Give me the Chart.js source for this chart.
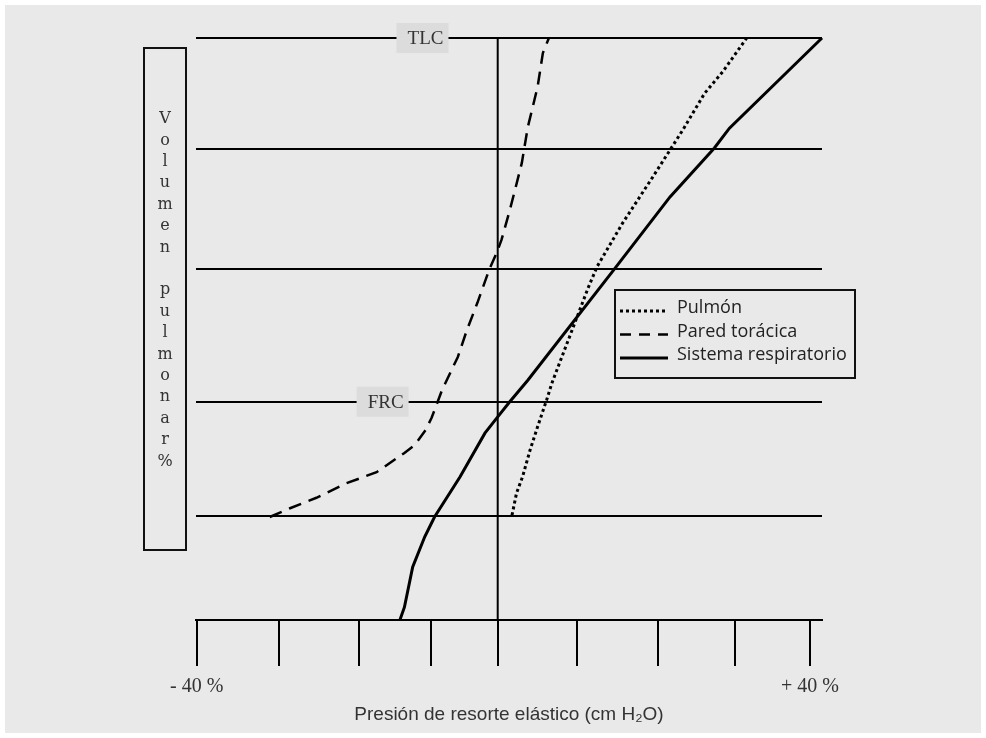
<!DOCTYPE html>
<html>
<head>
<meta charset="utf-8">
<script src="https://cdn.jsdelivr.net/npm/chart.js@4/dist/chart.umd.min.js"></script>
<style>
  html, body { margin: 0; padding: 0; background: #ffffff; }
  #c { display: block; }
</style>
</head>
<body>
<canvas id="c" width="986" height="738"></canvas>
<script>
// ---------- data ----------
const seriesNames = ['Pulmón', 'Pared torácica', 'Sistema respiratorio'];

const pulmonPressure = [1.9, 2.5, 3.3, 4.3, 5.3, 6.5, 7.2, 12.0, 13.2, 16.6, 20.6, 24.6, 27.5, 29.9, 33.1];
const pulmonVolume   = [18.0, 21.8, 24.6, 29.2, 33.2, 37.8, 40.7, 57.0, 60.7, 68.2, 76.1, 84.2, 90.5, 94.2, 100];

const paredPressure = [-30.3, -27.6, -24.1, -20.1, -16.1, -12.4, -11.0, -9.6, -8.8, -7.4, -5.3, -4.1, -2.7, -1.1, -0.1, 0.5, 1.6, 2.3, 3.2, 4.0, 5.3, 6.0, 6.8];
const paredVolume   = [17.7, 19.2, 21.0, 23.5, 25.4, 28.7, 30.1, 32.6, 34.7, 39.5, 45.2, 49.8, 54.5, 60.3, 63.2, 65.3, 70.4, 73.9, 78.5, 84.7, 91.6, 97.4, 100];

const sistemaPressure = [-13.0, -12.4, -11.3, -9.7, -8.4, -5.0, -1.7, 0, 1.6, 4.0, 15.5, 22.9, 28.8, 30.8, 43.1];
const sistemaVolume   = [0, 2.2, 9.1, 14.3, 17.7, 24.6, 32.1, 34.9, 37.5, 41.2, 60.3, 72.7, 81.1, 84.5, 100];

// vertical zero-pressure axis
const zeroAxisPressure = [0, 0];
const zeroAxisVolume = [0, 100];

// axes
const pressureMin = -40.1;
const pressureMax = 43.1;
const pressureTicks = [-40, -29.1, -18.5, -8.9, 0, 10.6, 21.3, 31.6, 41.5];
const pressureTickLabels = ['- 40 %', '', '', '', '', '', '', '', '+ 40 %'];
const volumeGrid = [0, 17.9, 37.5, 60.3, 80.9, 100];

const xTitle = 'Presión de resorte elástico (cm H₂O)';
const yTitle = 'Volumen pulmonar %';

// reference-volume markers
const markerNames = ['TLC', 'FRC'];
const markerPressure = [-10.0, -15.3];
const markerVolume = [100, 37.5];

// ---------- helpers ----------
const zip = (xs, ys) => xs.map((x, i) => ({ x: x, y: ys[i] }));
const BG = '#e9e9e9';

const styles = [
  { borderDash: [3, 3], borderWidth: 3 },
  { borderDash: [13, 8], borderWidth: 2.5 },
  { borderDash: [], borderWidth: 3 }
];

const bgPlugin = {
  id: 'bg',
  beforeDraw(chart) {
    const ctx = chart.ctx;
    ctx.save();
    ctx.fillStyle = '#ffffff';
    ctx.fillRect(0, 0, chart.width, chart.height);
    ctx.fillStyle = BG;
    ctx.fillRect(5, 5, chart.width - 10, chart.height - 10);
    ctx.restore();
  }
};

const yLabelPlugin = {
  id: 'ylabel',
  afterDraw(chart) {
    const ctx = chart.ctx;
    ctx.save();
    ctx.strokeStyle = '#111';
    ctx.lineWidth = 2;
    ctx.strokeRect(144, 48, 42, 502);
    ctx.fillStyle = '#333';
    ctx.font = '16px "DejaVu Serif"';
    ctx.textAlign = 'center';
    ctx.textBaseline = 'middle';
    const chars = Array.from(yTitle);
    let step = 0;
    chars.forEach((ch, i) => {
      if (ch === ' ') {
        // a blank line only between words, not before the lone "%"
        if (chars[i + 1] !== '%') step++;
        return;
      }
      ctx.fillText(ch, 165, 119 + step * 21.4);
      step++;
    });
    ctx.restore();
  }
};

const markerPlugin = {
  id: 'markers',
  afterDatasetsDraw(chart) {
    const ctx = chart.ctx;
    const xs = chart.scales.x, ys = chart.scales.y;
    ctx.save();
    markerNames.forEach((name, i) => {
      const cx = xs.getPixelForValue(markerPressure[i]);
      const cy = ys.getPixelForValue(markerVolume[i]);
      ctx.fillStyle = '#dcdcdc';
      ctx.fillRect(cx - 26, cy - 15, 52, 30);
      ctx.fillStyle = '#333';
      ctx.font = '19px "Liberation Serif"';
      ctx.textAlign = 'center';
      ctx.textBaseline = 'middle';
      ctx.fillText(name, cx + 3, cy + 1);
    });
    ctx.restore();
  }
};

const legendPlugin = {
  id: 'customLegend',
  afterDraw(chart) {
    const ctx = chart.ctx;
    ctx.save();
    ctx.fillStyle = BG;
    ctx.fillRect(615, 290, 240, 88);
    ctx.strokeStyle = '#111';
    ctx.lineWidth = 2;
    ctx.strokeRect(615, 290, 240, 88);
    seriesNames.forEach((name, i) => {
      const ty = 308 + i * 23.5;
      ctx.strokeStyle = '#000';
      ctx.lineWidth = styles[i].borderWidth;
      ctx.setLineDash(i === 1 ? [11, 8] : styles[i].borderDash);
      ctx.beginPath();
      ctx.moveTo(620, ty + 3);
      ctx.lineTo(668, ty + 3);
      ctx.stroke();
      ctx.setLineDash([]);
      ctx.fillStyle = '#222';
      ctx.font = '18px "Open Sans"';
      ctx.textAlign = 'left';
      ctx.textBaseline = 'middle';
      ctx.fillText(name, 677, ty);
    });
    ctx.restore();
  }
};

const datasets = [
  { label: seriesNames[0], data: zip(pulmonPressure, pulmonVolume) },
  { label: seriesNames[1], data: zip(paredPressure, paredVolume) },
  { label: seriesNames[2], data: zip(sistemaPressure, sistemaVolume) }
].map((d, i) => Object.assign(d, {
  borderColor: '#000',
  borderWidth: styles[i].borderWidth,
  borderDash: styles[i].borderDash,
  pointRadius: 0,
  tension: 0,
  fill: false,
  clip: false
}));
datasets.push({
  label: 'eje',
  data: zip(zeroAxisPressure, zeroAxisVolume),
  borderColor: '#000',
  borderWidth: 2,
  pointRadius: 0,
  fill: false,
  clip: false
});

new Chart(document.getElementById('c'), {
  type: 'line',
  data: { datasets: datasets },
  options: {
    responsive: false,
    animation: false,
    devicePixelRatio: 1,
    layout: { padding: { top: 38, right: 164, left: 0, bottom: 0 } },
    plugins: { legend: { display: false }, tooltip: { enabled: false } },
    scales: {
      x: {
        type: 'linear',
        min: pressureMin,
        max: pressureMax,
        afterBuildTicks(scale) { scale.ticks = pressureTicks.map(v => ({ value: v })); },
        afterFit(scale) { scale.height = 118; },
        ticks: {
          autoSkip: false,
          maxRotation: 0,
          padding: 9,
          color: '#333',
          font: { family: '"Liberation Serif"', size: 20 },
          callback: (v, i) => pressureTickLabels[i]
        },
        grid: { drawOnChartArea: false, drawTicks: true, tickLength: 46, color: '#000', lineWidth: 2 },
        border: { display: true, color: '#000', width: 2 },
        title: {
          display: true,
          text: xTitle,
          color: '#333',
          font: { family: '"Liberation Sans"', size: 19 },
          padding: { top: 0, bottom: 12 }
        }
      },
      y: {
        type: 'linear',
        min: 0,
        max: 100,
        afterBuildTicks(scale) { scale.ticks = volumeGrid.map(v => ({ value: v })); },
        afterFit(scale) { scale.width = 196; },
        ticks: { display: false },
        grid: { color: '#000', lineWidth: 2, drawTicks: false },
        border: { display: false }
      }
    }
  },
  plugins: [bgPlugin, markerPlugin, legendPlugin, yLabelPlugin]
});
</script>
</body>
</html>
